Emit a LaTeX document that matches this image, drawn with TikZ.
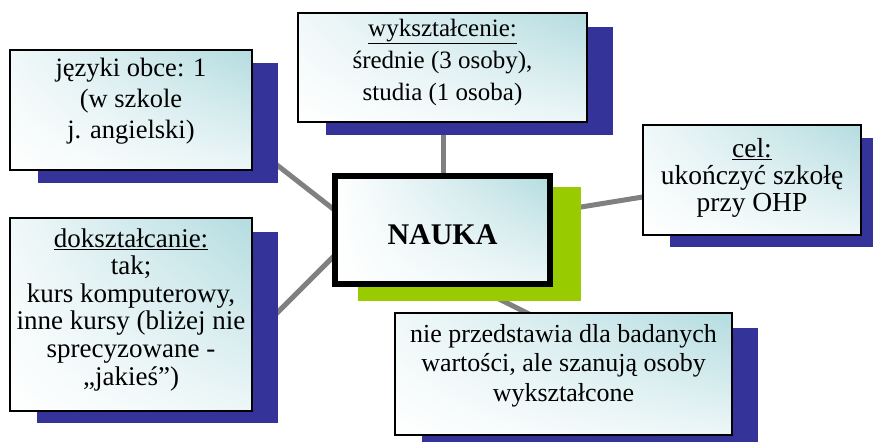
\documentclass[tikz,border=0pt]{standalone}
\usepackage{fontspec}
\usetikzlibrary{shadings}
\setmainfont{Liberation Serif}
\definecolor{shadowblue}{HTML}{333399}
\definecolor{limegreen}{HTML}{99CC00}
\definecolor{tealc}{HTML}{B4DCE0}
\definecolor{linegray}{HTML}{808080}
\begin{document}
\begin{tikzpicture}[x=1pt,y=-1pt,
  shadowbox/.style={fill=shadowblue, draw=none, inner sep=0pt},
  greenbox/.style={fill=limegreen, draw=none, inner sep=0pt},
  wbox/.style={draw=black, line width=1.6pt, inner sep=0pt,
    upper right=tealc, upper left=tealc!20!white, lower right=tealc!25!white, lower left=white},
  cbox/.style={draw=black, line width=6pt, inner sep=0pt,
    upper right=tealc, upper left=white, lower right=tealc!25!white, lower left=white},
  conn/.style={draw=linegray, line width=5pt},
  txt/.style={align=center, inner sep=0pt, anchor=base}]
\useasboundingbox (0,0) rectangle (874,442);
% connector end points (hidden behind boxes)
\coordinate (l1a) at (262,153.3);  \coordinate (l1b) at (345,218.2);
\coordinate (l2a) at (443,128);    \coordinate (l2b) at (443,180);
\coordinate (l3a) at (570,208.8);  \coordinate (l3b) at (655,195);
\coordinate (l4a) at (265,325);    \coordinate (l4b) at (345,245);
\coordinate (l5a) at (495,297);    \coordinate (l5b) at (545,322);
\draw[conn] (l1a) -- (l1b);
\draw[conn] (l2a) -- (l2b);
\draw[conn] (l3a) -- (l3b);
\draw[conn] (l4a) -- (l4b);
\draw[conn] (l5a) -- (l5b);
% shadows
\node[shadowbox, minimum width=240pt, minimum height=120pt] (s1) at (158,123) {};
\node[shadowbox, minimum width=287pt, minimum height=108pt] (s2) at (469.5,81) {};
\node[shadowbox, minimum width=203pt, minimum height=109pt] (s3) at (771.5,192.5) {};
\node[shadowbox, minimum width=241pt, minimum height=191pt] (s4) at (157.5,327.5) {};
\node[shadowbox, minimum width=336pt, minimum height=114pt] (s5) at (590,385) {};
\node[greenbox, minimum width=223pt, minimum height=114pt] (sc) at (469.5,244) {};
% boxes
\node[wbox, minimum width=242pt, minimum height=120pt] (b1) at (131,110) {};
\node[wbox, minimum width=289pt, minimum height=109pt] (b2) at (442.5,67.5) {};
\node[wbox, minimum width=218pt, minimum height=110pt] (b3) at (752,180) {};
\node[wbox, minimum width=242pt, minimum height=193pt] (b4) at (131,314.5) {};
\node[wbox, minimum width=337pt, minimum height=122pt] (b5) at (563.5,374) {};
\node[cbox, minimum width=215pt, minimum height=108pt] (bc) at (442.5,230) {};
% texts (anchor = baseline of the last line)
\node[txt, font=\fontsize{26.5}{31}\selectfont] (t1) at (131,138)
  {języki obce: 1\\(w szkole\\j. angielski)};
\node[txt, font=\fontsize{25}{32}\selectfont] (t2) at (442.5,100)
  {\underline{wykształcenie:}\\średnie (3 osoby),\\studia (1 osoba)};
\node[txt, font=\fontsize{27.5}{27}\selectfont] (t3) at (752,211)
  {\underline{cel:}\\ukończyć szkołę\\przy OHP};
\node[txt, font=\fontsize{27}{27.6}\selectfont] (t4) at (131,385)
  {\underline{dokształcanie:}\\tak;\\kurs komputerowy,\\inne kursy (bliżej nie\\sprecyzowane -\\„jakieś”)};
\node[txt, font=\fontsize{26}{29.5}\selectfont] (t5) at (563.5,401)
  {nie przedstawia dla badanych\\wartości, ale szanują osoby\\wykształcone};
\node[txt, font=\fontsize{30}{36}\selectfont\bfseries] (tc) at (442.5,244) {NAUKA};
\end{tikzpicture}
\end{document}
